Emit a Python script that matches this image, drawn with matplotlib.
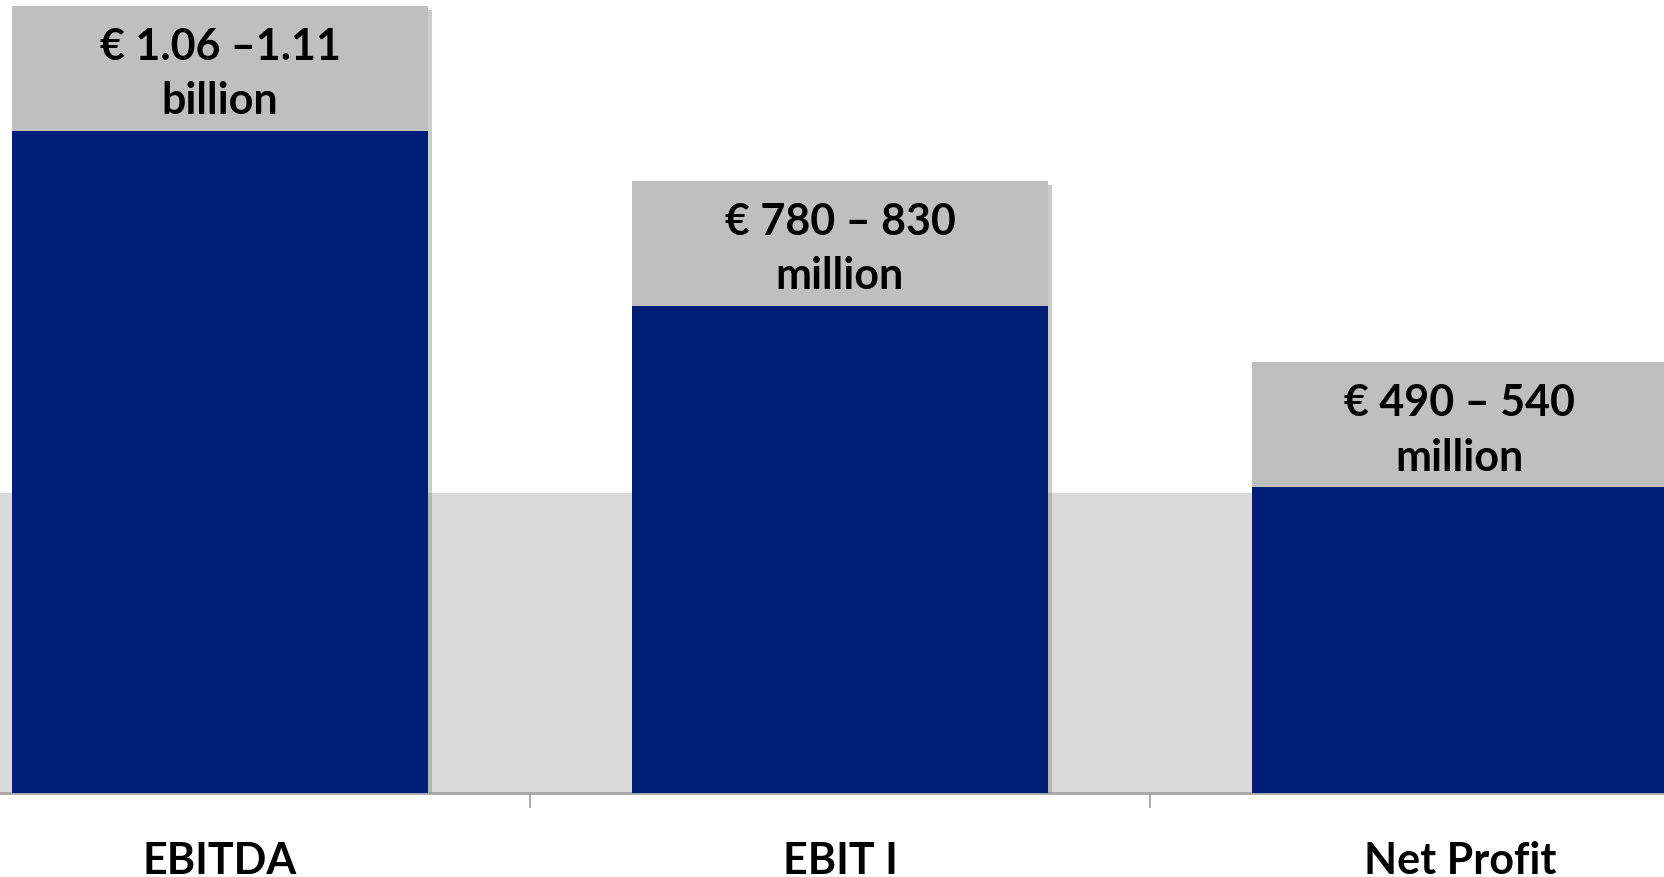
import matplotlib.pyplot as plt
import matplotlib.patheffects as pe

# data
categories = ['EBITDA', 'EBIT I', 'Net Profit']
low = [1060, 780, 490]          # navy bars (lower end of guidance)
box = [200, 200, 200]           # grey label box stacked on top
band = 480                      # light grey background band
box_labels = ['€ 1.06 –1.11\nbillion', '€ 780 – 830\nmillion', '€ 490 – 540\nmillion']

plt.rcParams['font.family'] = ['Lato', 'DejaVu Sans']

fig = plt.figure(figsize=(16.65, 8.78), dpi=100)
ax = fig.add_axes([0, 84 / 878, 1, 794 / 878])

x = range(len(categories))
shadow = [pe.SimplePatchShadow(offset=(3, -3), shadow_rgbFace='#808080', alpha=0.4), pe.Normal()]

ax.axhspan(0, band, color='#D9D9D9', zorder=0)
tops = ax.bar(x, box, bottom=low, width=0.671, color='#BFBFBF', zorder=2)
bars = ax.bar(x, low, width=0.671, color='#001E76', zorder=3)
for b in list(bars) + list(tops):
    b.set_path_effects(shadow)

#labels in the grey boxes
for i in x:
    ax.text(i, low[i] + box[i] / 2 - 8, box_labels[i], ha='center', va='center',
            fontsize=31, fontweight='bold', linespacing=1.45, zorder=4)

ax.set_xlim(-0.355, 2.331)
ax.set_ylim(0, 1270.4)
ax.set_yticks([])
ax.set_xticks(list(x))
ax.set_xticklabels(categories, fontsize=31, fontweight='bold')
ax.set_xticks([0.5, 1.5], minor=True)
ax.tick_params(axis='x', which='major', length=0, pad=34)
ax.tick_params(axis='x', which='minor', length=11, width=1.2, color='#A0A0A0')

for s in ['top', 'left', 'right']:
    ax.spines[s].set_visible(False)
ax.spines['bottom'].set_color('#A6A6A6')
ax.spines['bottom'].set_linewidth(2)
ax.spines['bottom'].set_zorder(1)
ax.patch.set_visible(False)

plt.savefig('out.png', dpi=100)
